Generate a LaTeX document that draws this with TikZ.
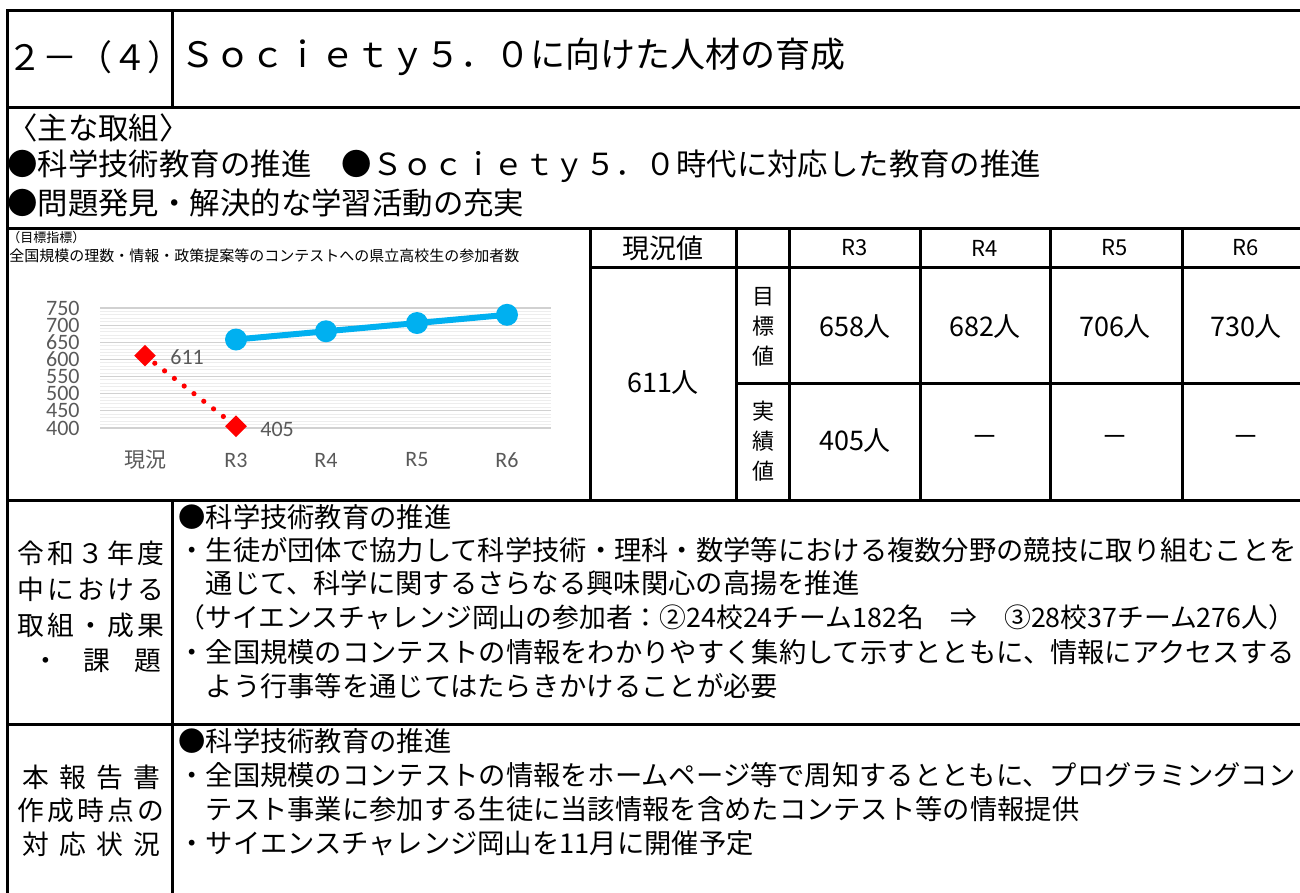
\documentclass[tikz,border=0pt]{standalone}
\usepackage{fontspec}
\setmainfont{Noto Sans CJK JP}
\newfontfamily\chartfont{Carlito}
\usetikzlibrary{shapes.geometric}
\definecolor{chartblue}{RGB}{0,176,240}
\definecolor{chartred}{RGB}{255,0,0}
\definecolor{axisgray}{RGB}{89,89,89}
\def\vy#1{428-(#1-400)*0.343}
\def\spread#1#2{\makebox[#1][s]{#2}}
\tikzset{
	rule/.style={line width=1.5pt, line cap=rect},
	txt/.style={anchor=west, inner sep=0pt},
	titletxt/.style={txt, font=\fontsize{17.5pt}{20pt}\selectfont},
	goaltxt/.style={txt, font=\fontsize{15.2pt}{18pt}\selectfont},
	bodytxt/.style={txt, font=\fontsize{13.65pt}{16pt}\selectfont},
	sidetxt/.style={inner sep=0pt, font=\fontsize{13.4pt}{16pt}\selectfont},
	cell/.style={inner sep=0pt, font=\fontsize{13.5pt}{16pt}\selectfont},
	headcell/.style={inner sep=0pt, font=\fontsize{11pt}{13pt}\selectfont},
	tick/.style={inner sep=0pt, text=axisgray, font=\chartfont\fontsize{11pt}{12pt}\selectfont},
	major/.style={line width=0.6pt, color=black!18},
	minor/.style={line width=0.5pt, color=black!7},
}
\begin{document}
\begin{tikzpicture}[x=0.5pt, y=-0.5pt]
			%%%%% START %%%%%
			\useasboundingbox (0,0) rectangle (1300,893);
			\clip (0,0) rectangle (1300,893);
			
			% frame
			\draw[rule] (1310,11) -- (7,11) -- (7,900);
			\draw[rule] (172,11) -- (172,108);
			\draw[rule] (7,108) -- (1310,108);
			\draw[rule] (7,229) -- (1310,229);
			\draw[rule] (7,500) -- (1310,500);
			\draw[rule] (172,500) -- (172,900);
			\draw[rule] (7,724) -- (1310,724);
			
			% table lines
			\foreach \x in {590,736,789,920,1050,1182} \draw[rule] (\x,229) -- (\x,500);
			\draw[rule] (590,267) -- (1310,267);
			\draw[rule] (736,383) -- (1310,383);
			
			% title
			\node[titletxt] (num) at (7,57) {２－（４）};
			\node[titletxt] (title) at (180,57) {Ｓｏｃｉｅｔｙ５．０に向けた人材の育成};
			
			% main efforts
			\node[goaltxt] (goalhead) at (7,128) {〈主な取組〉};
			\node[goaltxt] (goalA) at (7,166) {●科学技術教育の推進　●Ｓｏｃｉｅｔｙ５．０時代に対応した教育の推進};
			\node[goaltxt] (goalB) at (7,203) {●問題発見・解決的な学習活動の充実};
			
			% chart
			\node[txt, font=\fontsize{6.5pt}{8pt}\selectfont] (idxhead) at (7,238) {（目標指標）};
			\node[txt, font=\fontsize{7.5pt}{9pt}\selectfont] (idxname) at (9,256) {全国規模の理数・情報・政策提案等のコンテストへの県立高校生の参加者数};
			
			\foreach \v in {400,410,...,750} \draw[minor] (100,{\vy{\v}}) -- (551,{\vy{\v}});
			\foreach \v in {400,450,...,750} \draw[major] (100,{\vy{\v}}) -- (551,{\vy{\v}});
			\node[tick, anchor=east, align=right, font=\chartfont\fontsize{11pt}{8.575pt}\selectfont] (yaxis) at (80,368) {750\\700\\650\\600\\550\\500\\450\\400};
			
			\node[tick, font=\fontsize{10.5pt}{12pt}\selectfont] (xnow) at (145,460) {現況};
			\node[tick] (xR3) at (236,460) {R3};
			\node[tick] (xR4) at (326,460) {R4};
			\node[tick] (xR5) at (417,460) {R5};
			\node[tick] (xR6) at (507,460) {R6};
			
			\coordinate (t3) at (236,{\vy{658}});
			\coordinate (t4) at (326,{\vy{682}});
			\coordinate (t5) at (417,{\vy{706}});
			\coordinate (t6) at (507,{\vy{730}});
			\draw[line width=3pt, chartblue] (t3) -- (t4) -- (t5) -- (t6);
			\foreach \p in {t3,t4,t5,t6} \fill[chartblue] (\p) circle (5.5pt);
			
			\coordinate (a0) at (145,{\vy{611}});
			\coordinate (a3) at (236,{\vy{405}});
			\draw[chartred, line width=2.6pt, line cap=round, dash pattern=on 0pt off 6.2pt] (a0) -- (a3);
			\node[diamond, fill=chartred, inner sep=0pt, minimum width=11pt, minimum height=11pt] (d0) at (a0) {};
			\node[diamond, fill=chartred, inner sep=0pt, minimum width=11pt, minimum height=11pt] (d3) at (a3) {};
			\node[tick, anchor=west] (v611) at (170,357) {611};
			\node[tick, anchor=west] (v405) at (260,429) {405};
			
			% table
			\node[cell] (hnow) at (663,248) {現況値};
			\node[headcell] (hR3) at (855,248) {R3};
			\node[headcell] (hR4) at (985,248) {R4};
			\node[headcell] (hR5) at (1115,248) {R5};
			\node[headcell] (hR6) at (1246,248) {R6};
			\node[cell] (now) at (663,383) {611人};
			\node[headcell, align=center, font=\fontsize{11pt}{15pt}\selectfont] (tgt) at (763,327) {目\\標\\値};
			\node[headcell, align=center, font=\fontsize{11pt}{15pt}\selectfont] (act) at (763,441) {実\\績\\値};
			\node[cell] (tR3) at (855,327) {658人};
			\node[cell] (tR4) at (985,327) {682人};
			\node[cell] (tR5) at (1115,327) {706人};
			\node[cell] (tR6) at (1246,327) {730人};
			\node[cell] (aR3) at (855,441) {405人};
			\node[cell] (aR4) at (985,441) {－};
			\node[cell] (aR5) at (1115,441) {－};
			\node[cell] (aR6) at (1246,441) {－};
			
			% results this year
			\node[sidetxt] (sideA1) at (91,553) {\spread{73.5pt}{令\hfill 和\hfill ３\hfill 年\hfill 度}};
			\node[sidetxt] (sideA2) at (91,589) {\spread{73.5pt}{中\hfill に\hfill お\hfill け\hfill る}};
			\node[sidetxt] (sideA3) at (91,625) {\spread{73.5pt}{取\hfill 組\hfill ・\hfill 成\hfill 果}};
			\node[sidetxt] (sideA4) at (97,661) {\spread{64.5pt}{・\hfill 課\hfill 題}};
			\node[bodytxt] (resA) at (178,517) {●科学技術教育の推進};
			\node[bodytxt] (resB) at (178,550) {・生徒が団体で協力して科学技術・理科・数学等における複数分野の競技に取り組むことを};
			\node[bodytxt] (resC) at (178,583) {　通じて、科学に関するさらなる興味関心の高揚を推進};
			\node[bodytxt, font=\fontsize{13.4pt}{16pt}\selectfont] (resD) at (178,617) {（サイエンスチャレンジ岡山の参加者：②24校24チーム182名　⇒　③28校37チーム276人）};
			\node[bodytxt] (resE) at (178,652) {・全国規模のコンテストの情報をわかりやすく集約して示すとともに、情報にアクセスする};
			\node[bodytxt] (resF) at (178,686) {　よう行事等を通じてはたらきかけることが必要};
			
			% status at report time
			\node[sidetxt] (sideB1) at (91,777) {\spread{69pt}{本\hfill 報\hfill 告\hfill 書}};
			\node[sidetxt] (sideB2) at (91,810) {\spread{73.5pt}{作\hfill 成\hfill 時\hfill 点\hfill の}};
			\node[sidetxt] (sideB3) at (91,844) {\spread{69pt}{対\hfill 応\hfill 状\hfill 況}};
			\node[bodytxt] (stA) at (178,741) {●科学技術教育の推進};
			\node[bodytxt] (stB) at (178,775) {・全国規模のコンテストの情報をホームページ等で周知するとともに、プログラミングコン};
			\node[bodytxt] (stC) at (178,809) {　テスト事業に参加する生徒に当該情報を含めたコンテスト等の情報提供};
			\node[bodytxt] (stD) at (178,843) {・サイエンスチャレンジ岡山を11月に開催予定};
			
			%%%%% END %%%%%
\end{tikzpicture}
\end{document}
